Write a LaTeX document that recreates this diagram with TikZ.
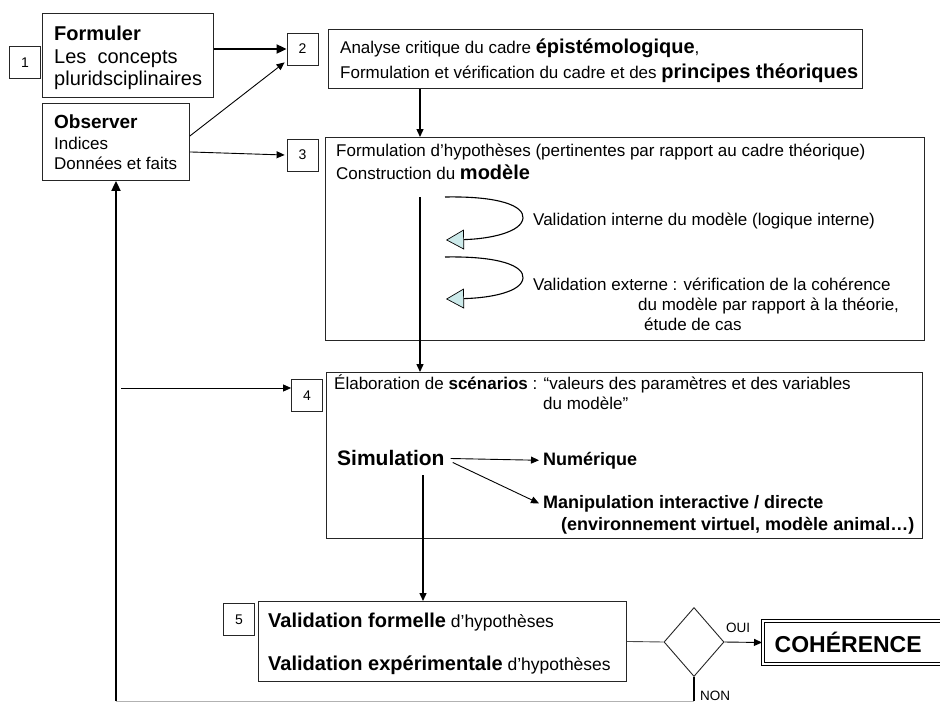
\documentclass[tikz,border=0pt]{standalone}
\usepackage{fontspec}
\setmainfont{Liberation Sans}
\usetikzlibrary{arrows.meta,shapes.geometric}
\definecolor{tipcyan}{RGB}{204,234,234}
\newcommand{\sz}[1]{\fontsize{#1}{#1}\selectfont}
\tikzset{
	stagebox/.style={draw=black!85, line width=0.9pt, anchor=north west, inner sep=0pt},
	numbox/.style={draw=black!85, line width=0.8pt, minimum width=31pt, minimum height=32pt, inner sep=0pt, font=\sz{14}},
	txt/.style={anchor=base west, inner sep=0pt, font=\sz{17}},
	link/.style={line width=0.9pt, -{Triangle[length=8pt,width=7pt]}},
	biglink/.style={line width=1.8pt, -{Triangle[length=10pt,width=9pt]}},
	selfcheck/.style={line width=1.1pt, -{Triangle[length=18pt,width=20pt,fill=tipcyan,line width=0.7pt]}},
	cohbox/.style={draw=black, double=white, double distance=1.6pt, line width=1.4pt, anchor=west, inner xsep=12pt, text width=176pt, minimum height=43pt, align=left, font=\bfseries\sz{23}}
}

\begin{document}
\begin{tikzpicture}[x=1pt, y=-1pt]
	%%%%% START %%%%%
	\useasboundingbox (0,0) rectangle (940,702);
	
	\node[numbox] (n1) at (25,62.5) {1};
	\node[stagebox, minimum width=171pt, minimum height=84pt] (form) at (42,13) {};
	\node[txt, font=\bfseries\sz{20}] (t-form) at (54,40) {Formuler};
	\node[txt, font=\sz{20}] (t-conc) at (54,63) {Les~ concepts};
	\node[txt, font=\sz{20}] (t-plur) at (54,85) {pluridsciplinaires};
	
	\node[stagebox, minimum width=147pt, minimum height=77pt] (obs) at (42,103) {};
	\node[txt, font=\bfseries\sz{19}] (t-obs) at (54,128) {Observer};
	\node[txt] (t-ind) at (54,149) {Indices};
	\node[txt] (t-don) at (54,169) {Données et faits};
	
	\node[numbox] (n2) at (302.5,49) {2};
	\node[stagebox, minimum width=534pt, minimum height=59pt] (box2) at (328,29) {};
	\node[txt] (t-ana) at (340,53) {Analyse critique du cadre \textbf{\sz{20}épistémologique},};
	\node[txt] (t-ver) at (340,78) {Formulation et vérification du cadre et des \textbf{\sz{20}principes théoriques}};
	
	\node[numbox] (n3) at (302.5,155) {3};
	\node[stagebox, minimum width=599pt, minimum height=203pt] (box3) at (325,137) {};
	\node[txt] (t-hyp) at (336,156) {Formulation d’hypothèses (pertinentes par rapport au cadre théorique)};
	\node[txt] (t-con) at (336,179) {Construction du \textbf{\sz{20}modèle}};
	\node[txt] (t-vint) at (533,225) {Validation interne du modèle (logique interne)};
	\node[txt] (t-vext) at (533,290) {Validation externe : vérification de la cohérence};
	\node[txt] (t-theo) at (638,310) {du modèle par rapport à la théorie,};
	\node[txt] (t-cas) at (644,330) {étude de cas};
	
	\node[numbox] (n4) at (307,395.5) {4};
	\node[stagebox, minimum width=596pt, minimum height=166pt] (box4) at (326,372) {};
	\node[txt] (t-scen) at (334,389) {Élaboration de \textbf{scénarios} : “valeurs des paramètres et des variables};
	\node[txt] (t-var) at (543,409) {du modèle”};
	\node[txt, font=\bfseries\sz{21}] (sim) at (337,465) {Simulation};
	\node[txt, font=\bfseries\sz{18}] (num) at (543,465) {Numérique};
	\node[txt, font=\bfseries\sz{18}] (manip) at (543,508) {Manipulation interactive / directe};
	\node[txt, font=\bfseries\sz{18}] (t-env) at (561,530) {(environnement virtuel, modèle animal…)};
	
	\node[numbox] (n5) at (239,619.5) {5};
	\node[stagebox, minimum width=368pt, minimum height=80pt] (box5) at (258,601) {};
	\node[txt, font=\sz{17.5}] (t-vf) at (268,627) {\textbf{\sz{20}Validation formelle} d’hypothèses};
	\node[txt, font=\sz{17.5}] (t-ve) at (268,670) {\textbf{\sz{20}Validation expérimentale} d’hypothèses};
	
	\node[draw=black!85, line width=0.9pt, diamond, minimum width=60pt, minimum height=69pt, inner sep=0pt] (dec) at (694,642) {};
	\node[cohbox] (coh) at (762,642.5) {COHÉRENCE};
	\node[txt, font=\sz{13.5}] (oui) at (726,632) {OUI};
	\node[txt, font=\sz{13.5}] (non) at (700,700) {NON};
	
	\coordinate (spine) at (420,197);
	\coordinate (drop) at (423,475);
	\coordinate (feed) at (121,388);
	\coordinate (base) at (116,701);
	\coordinate (nonend) at (694,701);
	
	% flow down the right column
	\draw[biglink] (form.east |- n2.west) -- (n2.west);
	\draw[link] ([yshift=6pt]obs.east) -- ([xshift=-2pt,yshift=3pt]n2.south west);
	\draw[link] ([yshift=-10pt]obs.east) -- ([xshift=-2pt]n3.west);
	\draw[link, line width=1.4pt] (box2.south -| spine) -- (box3.north -| spine);
	\draw[line width=1.4pt] (spine) -- (box3.south -| spine);
	\draw[link, line width=1.4pt] (box3.south -| spine) -- (box4.north -| spine);
	
	\draw[selfcheck] (445,197) .. controls (500,196) and (524,206) .. (523,218) .. controls (522,232) and (490,239) .. (446,240);
	\draw[selfcheck] (445,257) .. controls (500,256) and (524,266) .. (523,278) .. controls (522,292) and (490,298) .. (446,299);
	
	\draw[link] ([xshift=6pt,yshift=-1pt]sim.east) -- ([xshift=-4pt]num.west);
	\draw[link] ([xshift=8pt,yshift=-5pt]sim.east) -- ([xshift=-4pt]manip.west);
	\draw[link, line width=1.4pt] (drop) -- (box5.north -| drop);
	
	\draw[black!70, line width=0.9pt] (box5.east) -- (dec.west);
	\draw[link] (dec.east) -- (coh.west);
	\draw[line width=1.6pt] (dec.south) -- (nonend);
	\draw[black!30, line width=1pt] (base) -- (nonend);
	
	% feedback to the start
	\draw[biglink] (base) -- (obs.south -| base);
	\draw[link] (feed) -- (feed -| n4.west);
	%%%%% END %%%%%
\end{tikzpicture}
\end{document}
